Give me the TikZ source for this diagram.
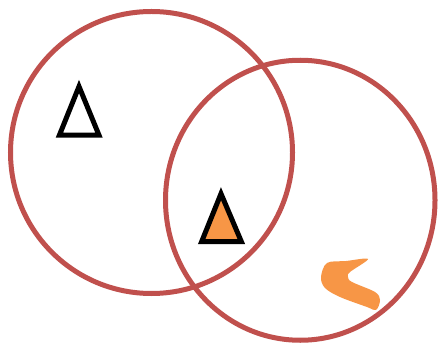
\documentclass[tikz,border=0pt]{standalone}
\usepackage{tikz}
\usetikzlibrary{calc}
\definecolor{ringStroke}{RGB}{192,80,77}
\definecolor{markFill}{RGB}{247,150,70}
\colorlet{ink}{black}
\tikzset{
  ring/.style={draw=ringStroke, line width=5pt},
  marker/.style={draw=ink, line width=5pt, line join=miter},
  blob/.style={fill=markFill, draw=none}
}

\begin{document}
\begin{tikzpicture}[x=1pt,y=-1pt]
  \useasboundingbox (0,0) rectangle (438,347);

  % the two sets
  \draw[ring] (151.5,152.5) circle [radius=141pt];
  \draw[ring] (300.25,200.25) ellipse [x radius=134.75pt, y radius=140pt];

  % markers
  \draw[marker, fill=white] (79,86.5) -- (99,135.2) -- (59.4,135.2) -- cycle;
  \draw[marker, fill=markFill] (221,193.7) -- (241.3,241.5) -- (201.7,241.5) -- cycle;

  % loose stroke in the right set
  \fill[blob] plot[smooth cycle, tension=0.55] coordinates {
    (327,263) (346,261) (368,259) (350,272) (348,277) (352,282)
    (375,292) (380,300) (376,310) (367,307) (340,297) (325,288)
    (321,277)};
\end{tikzpicture}
\end{document}
